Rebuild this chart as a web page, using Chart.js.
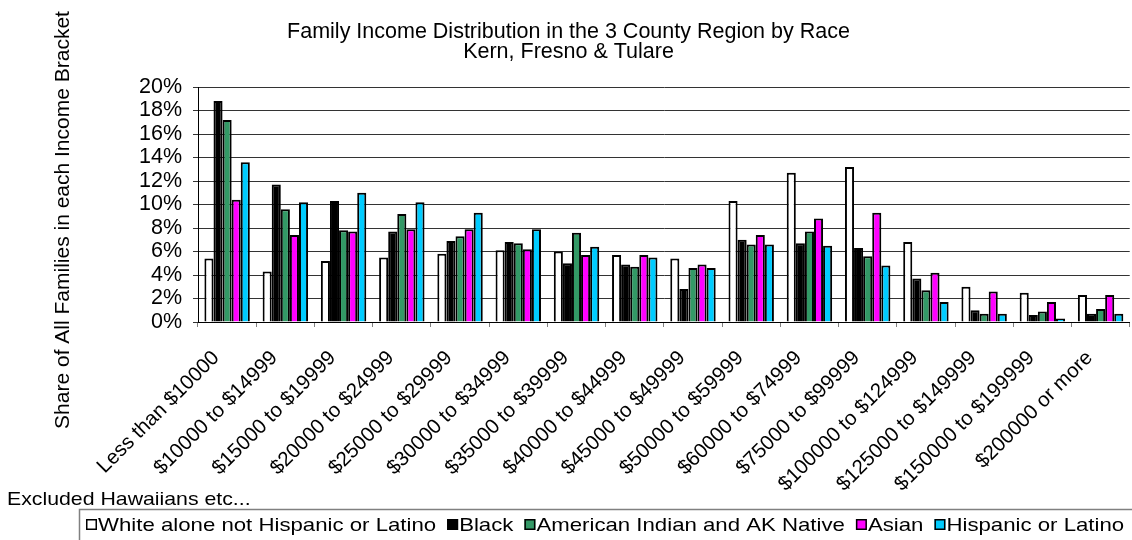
<!DOCTYPE html>
<html>
<head>
<meta charset="utf-8">
<script src="https://cdn.jsdelivr.net/npm/chart.js@4"></script>
<style>
  html, body { margin: 0; padding: 0; background: #fff; overflow: hidden; }
  #wrap { width: 1137px; height: 540px; }
</style>
</head>
<body>
<div id="wrap"><canvas id="incomeChart" width="1137" height="540"></canvas></div>
<script>
/* ======================
   DATA (% of families)
====================== */
const brackets = [
  "Less than $10000", "$10000 to $14999", "$15000 to $19999", "$20000 to $24999",
  "$25000 to $29999", "$30000 to $34999", "$35000 to $39999", "$40000 to $44999",
  "$45000 to $49999", "$50000 to $59999", "$60000 to $74999", "$75000 to $99999",
  "$100000 to $124999", "$125000 to $149999", "$150000 to $199999", "$200000 or more"
]

const white    = [5.4, 4.3, 5.2, 5.5, 5.8, 6.1, 6.0, 5.7, 5.4, 10.3, 12.7, 13.2, 6.8, 3.0, 2.5, 2.3]
const black    = [18.8, 11.7, 10.3, 7.7, 6.9, 6.8, 5.0, 4.9, 2.8, 7.0, 6.7, 6.3, 3.7, 1.0, 0.6, 0.7]
const amIndian = [17.2, 9.6, 7.8, 9.2, 7.3, 6.7, 7.6, 4.7, 4.6, 6.6, 7.7, 5.6, 2.7, 0.7, 0.9, 1.1]
const asian    = [10.4, 7.4, 7.7, 7.9, 7.9, 6.2, 5.7, 5.7, 4.9, 7.4, 8.8, 9.3, 4.2, 2.6, 1.7, 2.3]
const hispanic = [13.6, 10.2, 11.0, 10.2, 9.3, 7.9, 6.4, 5.5, 4.6, 6.6, 6.5, 4.8, 1.7, 0.7, 0.3, 0.7]

const seriesNames = [
  "White alone not Hispanic or Latino", "Black", "American Indian and AK Native",
  "Asian", "Hispanic or Latino"
]
const seriesColors = ["#FFFFFF", "#000000", "#339966", "#FF00FF", "#00CCFF"]

const titleLines = ["Family Income Distribution in the 3 County Region by Race", "Kern, Fresno & Tulare"]
const yTitle = "Share of All Families in each Income Bracket"
const footNote = "Excluded Hawaiians etc..."

/* ======================
   HELPERS
====================== */
const $ = (id) => document.getElementById(id)
const FONT = "'Liberation Sans', Arial, sans-serif"

/* ---------- extra text + boxed legend ---------- */
const extras = {
  id: "extras",
  afterDraw(chart) {
    const ctx = chart.ctx
    ctx.save()
    ctx.fillStyle = "#000"

    // y axis title
    ctx.save()
    ctx.font = `21px ${FONT}`
    ctx.translate(63, 220)
    ctx.rotate(-Math.PI / 2)
    ctx.textAlign = "center"
    ctx.textBaseline = "middle"
    ctx.fillText(yTitle, 0, 0)
    ctx.restore()

    // footnote
    ctx.save()
    ctx.font = `18.5px ${FONT}`
    ctx.translate(7, 505)
    ctx.scale(1.15, 1)
    ctx.fillText(footNote, 0, 0)
    ctx.restore()

    // legend frame
    ctx.strokeStyle = "#808080"
    ctx.lineWidth = 1.5
    ctx.beginPath()
    ctx.moveTo(79.5, 540)
    ctx.lineTo(79.5, 509.5)
    ctx.lineTo(chart.width, 509.5)
    ctx.stroke()

    // legend items
    ctx.font = `18.5px ${FONT}`
    let x = 86
    chart.data.datasets.forEach(ds => {
      ctx.fillStyle = ds.backgroundColor
      ctx.fillRect(x, 519, 11, 11)
      ctx.strokeStyle = "#000"
      ctx.lineWidth = 1.5
      ctx.strokeRect(x + 0.75, 519.75, 9.5, 9.5)
      ctx.fillStyle = "#000"
      ctx.save()
      ctx.translate(x + 12, 531)
      ctx.scale(1.2, 1)
      ctx.fillText(ds.label, 0, 0)
      ctx.restore()
      x += 12 + ctx.measureText(ds.label).width * 1.2 + 11
    })

    ctx.restore()
  }
}

/* ======================
   CHART
====================== */
const seriesData = [white, black, amIndian, asian, hispanic]

new Chart($("incomeChart"), {
  type: "bar",
  data: {
    labels: brackets,
    datasets: seriesNames.map((name, i) => ({
      label: name,
      data: seriesData[i],
      backgroundColor: seriesColors[i],
      borderColor: "#000",
      borderWidth: 2,
      categoryPercentage: 0.78,
      barPercentage: 1
    }))
  },
  options: {
    responsive: false,
    animation: false,
    devicePixelRatio: 1,
    layout: { padding: 0 },
    plugins: {
      legend: { display: false },
      tooltip: { enabled: false },
      title: {
        display: true,
        text: titleLines,
        color: "#000",
        font: { family: FONT, size: 21.5, weight: "normal", lineHeight: "20px" },
        padding: { top: 22, bottom: 25 }
      }
    },
    scales: {
      x: {
        grid: { offset: true, drawOnChartArea: false, tickLength: 5, color: "#808080" },
        border: { color: "#000", width: 1 },
        ticks: {
          autoSkip: false, minRotation: 45, maxRotation: 45,
          padding: 19, labelOffset: -11,
          color: "#000", font: { family: FONT, size: 20.5 }
        },
        afterFit: (s) => { s.height = 218 }
      },
      y: {
        min: 0,
        max: 20,
        ticks: {
          stepSize: 2, autoSkip: false, padding: 11, color: "#000",
          font: { family: FONT, size: 21.5 },
          callback: (v) => v + "%"
        },
        grid: { color: "#333", tickLength: 5 },
        border: { color: "#000", width: 1 },
        afterFit: (s) => { s.width = 198 }
      }
    }
  },
  plugins: [extras]
})
</script>
</body>
</html>
